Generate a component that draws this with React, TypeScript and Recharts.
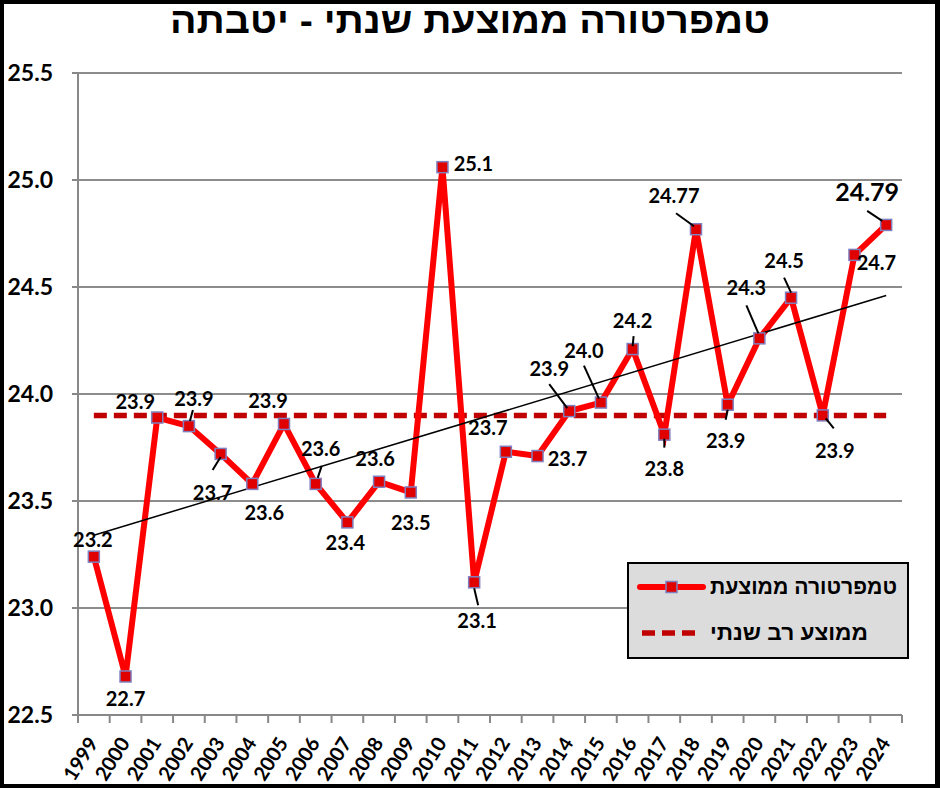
import { LineChart, Line, XAxis, YAxis, CartesianGrid, ReferenceLine, LabelList } from 'recharts'

const years = [
  '1999', '2000', '2001', '2002', '2003', '2004', '2005', '2006', '2007', '2008', '2009', '2010', '2011',
  '2012', '2013', '2014', '2015', '2016', '2017', '2018', '2019', '2020', '2021', '2022', '2023', '2024',
]
const avgTemp = [
  23.24, 22.68, 23.89, 23.85, 23.72, 23.58, 23.86, 23.58, 23.4, 23.59, 23.54, 25.06, 23.12,
  23.73, 23.71, 23.92, 23.96, 24.21, 23.81, 24.77, 23.95, 24.26, 24.45, 23.9, 24.65, 24.79,
]
const valueLabels = [
  '23.2', '22.7', '23.9', '23.9', '23.7', '23.6', '23.9', '23.6', '23.4', '23.6', '23.5', '25.1', '23.1',
  '23.7', '23.7', '23.9', '24.0', '24.2', '23.8', '24.77', '23.9', '24.3', '24.5', '23.9', '24.7', '24.79',
]
const longTermMean = 23.9
const trendStart = 23.34
const trendEnd = 24.46
const yTicks = [22.5, 23.0, 23.5, 24.0, 24.5, 25.0, 25.5]

const title = 'טמפרטורה ממוצעת שנתי - יטבתה'
const legendTemp = 'טמפרטורה ממוצעת'
const legendMean = 'ממוצע רב שנתי'

// label placement: [dx, dy] from the point, optional leader [x1, y1, x2, y2]
const labelPos: [number, number, number[]?][] = [
  [-1, -18],
  [0, 22],
  [-22, -17],
  [5, -28, [1, -5, 4, -16]],
  [-8, 38, [0, 3, -8, 16]],
  [12, 28],
  [-16, -24],
  [5, -36, [2, -6, 6, -18]],
  [-2, 20],
  [-4, -24],
  [0, 30],
  [31, -4],
  [3, 38, [0, 6, 4, 23]],
  [-18, -25],
  [30, 2],
  [-20, -43, [-2, -3, -20, -27]],
  [-17, -53, [-2, -4, -17, -37]],
  [0, -29, [0, -3, 1, -13]],
  [0, 33, [0, 4, 0, 13]],
  [-22, -34, [-2, -3, -20, -16]],
  [-2, 35, [0, 5, -2, 15]],
  [-13, -51, [-1, -5, -13, -33]],
  [-7, -38, [0, -5, -7, -20]],
  [12, 35, [3, 3, 11, 13]],
  [22, 7],
  [-19, -34, [-4, -4, -19, -14]],
]

const rows = years.map((year, i) => ({ year, temp: avgTemp[i] }))

const NUM_FONT = "Lato, 'Open Sans', sans-serif"
const HEB_FONT = "'Liberation Sans', 'DejaVu Sans', sans-serif"
const PLOT_W = 824
const HALF_BAND = PLOT_W / years.length / 2

function Marker(props: any) {
  const { cx, cy } = props
  return <rect x={cx - 5.5} y={cy - 5.5} width={11} height={11} fill="#e00000" stroke="#7f7fbf" strokeWidth={1.5} />
}

function PointLabel(props: any) {
  const { x, y, index } = props
  const [dx, dy, leader] = labelPos[index]
  const big = index === years.length - 1
  return (
    <g>
      {leader && (
        <line x1={x + leader[0]} y1={y + leader[1]} x2={x + leader[2]} y2={y + leader[3]} stroke="#000" strokeWidth={2} />
      )}
      <text
        x={x + dx}
        y={y + dy}
        textAnchor="middle"
        dominantBaseline="central"
        fontFamily={NUM_FONT}
        fontWeight={700}
        fontSize={big ? 25 : 20}
        fill="#000"
      >
        {valueLabels[index]}
      </text>
    </g>
  )
}

function YearTick(props: any) {
  const { x, y, payload, index } = props
  const tx = x + 5
  const ty = y + 28
  return (
    <g>
      <line x1={x - HALF_BAND} y1={y} x2={x - HALF_BAND} y2={y + 8} stroke="#888" strokeWidth={2} />
      {index === years.length - 1 && (
        <line x1={x + HALF_BAND} y1={y} x2={x + HALF_BAND} y2={y + 8} stroke="#888" strokeWidth={2} />
      )}
      <text
        x={tx}
        y={ty}
        transform={`rotate(-58 ${tx} ${ty})`}
        textAnchor="end"
        fontFamily={NUM_FONT}
        fontWeight={700}
        fontSize={20}
        fill="#000"
      >
        {payload.value}
      </text>
    </g>
  )
}

export default function App() {
  return (
    <div style={{ position: 'absolute', left: 0, top: 0, width: 940, height: 788, background: '#000' }}>
      <div style={{ position: 'absolute', left: 4, top: 4, width: 931, height: 780, background: '#fff' }}>
        <LineChart width={931} height={780} data={rows} margin={{ top: 69, right: 33, bottom: 0, left: 0 }}>
          <CartesianGrid vertical={false} stroke="#8c8c8c" strokeWidth={2} />
          <XAxis
            dataKey="year"
            interval={0}
            height={69}
            tickSize={0}
            tickMargin={0}
            padding={{ left: HALF_BAND, right: HALF_BAND }}
            axisLine={{ stroke: '#888', strokeWidth: 2 }}
            tick={<YearTick />}
          />
          <YAxis
            domain={[22.5, 25.5]}
            ticks={yTicks}
            width={74}
            tickSize={6}
            tickMargin={19}
            axisLine={{ stroke: '#888', strokeWidth: 2 }}
            tickLine={{ stroke: '#888', strokeWidth: 2 }}
            tickFormatter={(v: number) => v.toFixed(1)}
            tick={{ fill: '#000', fontSize: 23, fontWeight: 700, fontFamily: NUM_FONT }}
          />
          <ReferenceLine
            segment={[{ x: years[0], y: longTermMean }, { x: years[years.length - 1], y: longTermMean }]}
            stroke="#c00000"
            strokeWidth={5.5}
            strokeDasharray="13 7"
          />
          <Line
            dataKey="temp"
            stroke="#ff0000"
            strokeWidth={6}
            dot={<Marker />}
            activeDot={false}
            isAnimationActive={false}
          >
            <LabelList dataKey="temp" content={<PointLabel />} />
          </Line>
          <ReferenceLine
            segment={[{ x: years[0], y: trendStart }, { x: years[years.length - 1], y: trendEnd }]}
            stroke="#000"
            strokeWidth={1.5}
          />
        </LineChart>
      </div>
      <svg style={{ position: 'absolute', left: 0, top: 0 }} width={940} height={60}>
        <text
          x={470}
          y={33}
          textAnchor="middle"
          fontFamily={HEB_FONT}
          fontWeight={700}
          fontSize={36}
          textLength={600}
          lengthAdjust="spacingAndGlyphs"
          fill="#000"
        >
          {title}
        </text>
      </svg>
      <svg style={{ position: 'absolute', left: 627, top: 562 }} width={283} height={98}>
        <rect x={1} y={1} width={280} height={95} fill="#dcdcdc" stroke="#000" strokeWidth={2} />
        <line x1={13} y1={25} x2={76} y2={25} stroke="#ff0000" strokeWidth={6} strokeLinecap="round" />
        <rect x={39} y={19.5} width={11} height={11} fill="#e00000" stroke="#7f7fbf" strokeWidth={1.5} />
        <line x1={15} y1={71} x2={74} y2={71} stroke="#c00000" strokeWidth={5.5} strokeDasharray="13 7" />
        <text
          x={83}
          y={32}
          fontFamily={HEB_FONT}
          fontWeight={700}
          fontSize={21}
          textLength={187}
          lengthAdjust="spacingAndGlyphs"
          fill="#000"
        >
          {legendTemp}
        </text>
        <text
          x={83}
          y={78}
          fontFamily={HEB_FONT}
          fontWeight={700}
          fontSize={21}
          textLength={158}
          lengthAdjust="spacingAndGlyphs"
          fill="#000"
        >
          {legendMean}
        </text>
      </svg>
    </div>
  )
}
